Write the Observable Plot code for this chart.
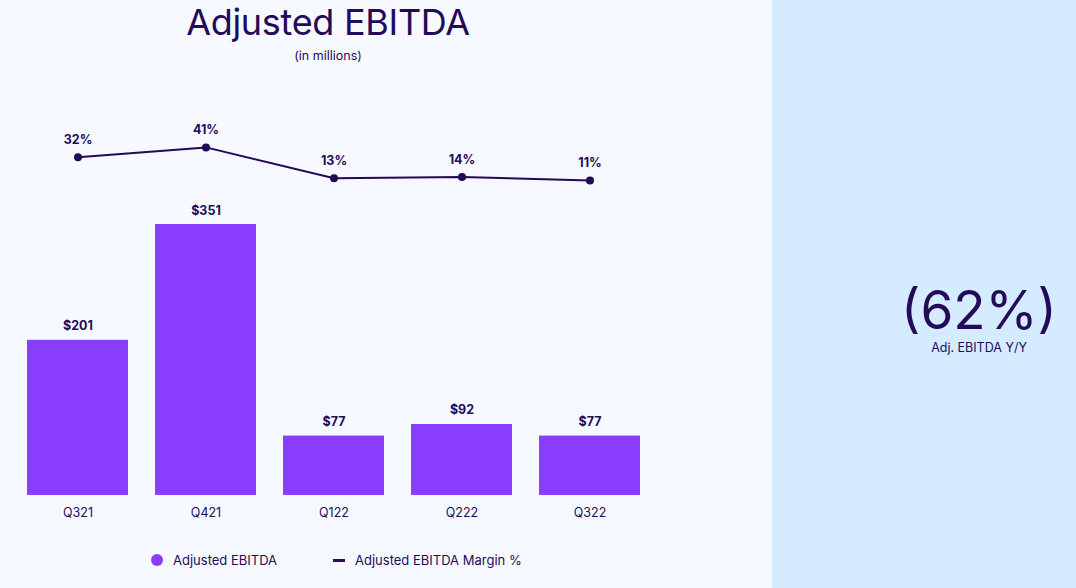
<!DOCTYPE html>
<html>
<head>
<meta charset="utf-8">
<script src="https://cdn.jsdelivr.net/npm/d3@7"></script>
<script src="https://cdn.jsdelivr.net/npm/@observablehq/plot@0.6"></script>
<style>
  html, body { margin: 0; padding: 0; }
  body { width: 1076px; height: 588px; overflow: hidden; font-family: Inter, "Noto Sans", sans-serif; color: #240b5a; }
  #wrap { position: relative; width: 1076px; height: 588px; }
  #left { position: absolute; left: 0; top: 0; width: 772px; height: 588px; background: #f6f9ff; }
  #right { position: absolute; left: 772px; top: 0; width: 304px; height: 588px; background: #d5ebff; }
  #title { position: absolute; left: 0; width: 656px; top: 0px; text-align: center; font-size: 36px; font-weight: 400; line-height: 44px; letter-spacing: -0.3px; }
  #subtitle { position: absolute; left: 0; width: 656px; top: 48px; text-align: center; font-size: 12.5px; line-height: 16px; }
  #chart { position: absolute; left: 0; top: 80px; }
  #legend { position: absolute; top: 551px; left: 0; width: 772px; height: 20px; font-size: 13px; }
  .li { position: absolute; top: 0; display: flex; align-items: center; height: 18px; }
  .dot { width: 12px; height: 12px; border-radius: 6px; background: #8a3cff; margin-right: 10px; }
  .dash { width: 12px; height: 3px; background: #2a0b66; margin-right: 10px; }
  #big { position: absolute; top: 278px; text-align: center; font-size: 53px; line-height: 64px; font-weight: 400; }
  #bigsub { position: absolute; top: 340px; text-align: center; font-size: 12.5px; line-height: 16px; }
</style>
</head>
<body>
<div id="wrap">
  <div id="left">
    <div id="title">Adjusted EBITDA</div>
    <div id="subtitle">(in millions)</div>
    <div id="chart"></div>
    <div id="legend">
      <div class="li" style="left:151px"><span class="dot"></span>Adjusted EBITDA</div>
      <div class="li" style="left:333px"><span class="dash"></span>Adjusted EBITDA Margin %</div>
    </div>
  </div>
  <div id="right"></div>
  <div id="big" style="width:414px; margin-left:-207px; left:979px;">(62%)</div>
  <div id="bigsub" style="left:979px; width:300px; margin-left:-150px;">Adj. EBITDA Y/Y</div>
</div>
<script>
const quarters = ["Q321", "Q421", "Q122", "Q222", "Q322"];
const ebitda = [201, 351, 77, 92, 77];
const margin = [32, 41, 13, 14, 11];

const data = quarters.map((q, i) => ({q, v: ebitda[i], m: margin[i]}));

// secondary scale: margin % mapped into the bar value axis (dual-axis layout)
const marginToY = d3.scaleLinear().domain([0, 100]).range([392.5, 535]);

const barColor = "#8a3cff";
const ink = "#240b5a";
const lineColor = "#230a55";

const plot = Plot.plot({
  width: 772,
  height: 460,
  marginLeft: 0,
  marginRight: 105,
  marginTop: 29,
  marginBottom: 45,
  style: { background: "transparent", fontFamily: "Inter, 'Noto Sans', sans-serif", color: ink, overflow: "visible" },
  x: { domain: quarters, padding: 0.21, label: null },
  y: { domain: [0, 500], axis: null },
  marks: [
    Plot.barY(data, { x: "q", y: "v", fill: barColor }),
    Plot.text(data, { x: "q", y: "v", text: d => "$" + d.v, dy: -14, fill: ink, fontSize: 12.5, fontWeight: 700 }),
    Plot.line(data, { x: "q", y: d => marginToY(d.m), stroke: lineColor, strokeWidth: 2, clip: false }),
    Plot.dot(data, { x: "q", y: d => marginToY(d.m), r: 4, fill: lineColor, stroke: "none" }),
    Plot.text(data, { x: "q", y: d => marginToY(d.m), text: d => d.m + "%", dy: -17, fill: ink, fontSize: 12.5, fontWeight: 700 }),
    Plot.axisX({ tickSize: 0, tickPadding: 13, fontSize: 12.5, fill: ink, label: null })
  ]
});
document.getElementById("chart").appendChild(plot);
</script>
</body>
</html>
